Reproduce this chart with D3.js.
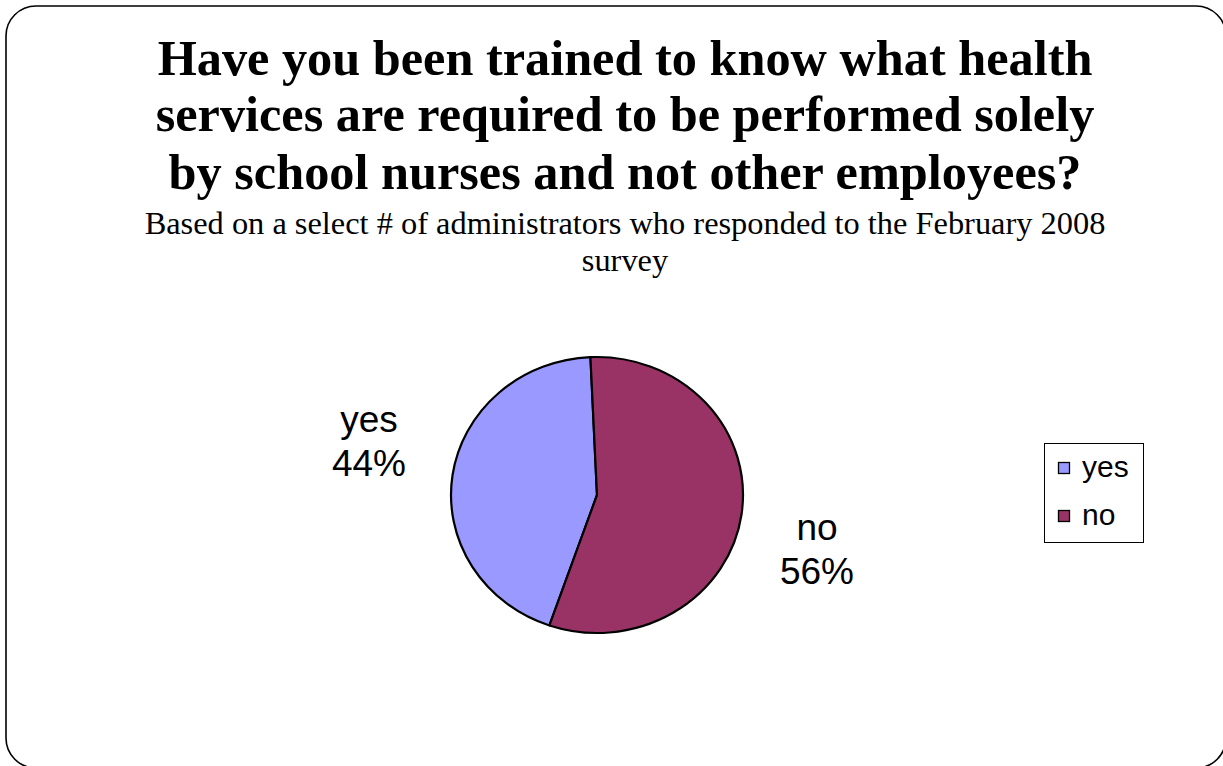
<!DOCTYPE html>
<html><head><meta charset="utf-8">
<script src="https://cdn.jsdelivr.net/npm/d3@7"></script>
<style>html,body{margin:0;padding:0;background:#fff;}svg{display:block;}</style>
</head><body>
<svg id="c" width="1223" height="766"></svg>
<script>
const categories = ["yes", "no"];
const values = [44, 56];
const colors = ["#9999FF", "#993366"];
const titleLines = ["Have you been trained to know what health", "services are required to be performed solely", "by school nurses and not other employees?"];
const subtitleLines = ["Based on a select # of administrators who responded to the February 2008", "survey"];

const svg = d3.select("#c");
svg.append("rect").attr("x", 6).attr("y", 6).attr("width", 1220).attr("height", 762)
  .attr("rx", 30).attr("ry", 30).attr("fill", "#fff").attr("stroke", "#000").attr("stroke-width", 1.6);

const titleY = [75, 131, 189];
svg.append("g").selectAll("text").data(titleLines).join("text")
  .attr("x", 625).attr("y", (d, i) => titleY[i])
  .attr("text-anchor", "middle")
  .attr("font-family", "'Liberation Serif','Times New Roman',serif")
  .attr("font-weight", "bold").attr("font-size", 50.3).text(d => d);

svg.append("g").selectAll("text").data(subtitleLines).join("text")
  .attr("x", 625).attr("y", (d, i) => 234 + i * 37)
  .attr("text-anchor", "middle")
  .attr("font-family", "'Liberation Serif','Times New Roman',serif")
  .attr("font-size", 32.4).text(d => d);

const cx = 597, cy = 495, rx = 146, ry = 138;
const total = d3.sum(values);
const offset = -0.045 - (values[0] / total) * 2 * Math.PI;
const pie = d3.pie().sort(null).startAngle(offset).endAngle(offset + 2 * Math.PI);
const arcs = pie(values);
const arc = d3.arc().innerRadius(0).outerRadius(rx);
const g = svg.append("g").attr("transform", `translate(${cx},${cy}) scale(1,${ry / rx})`);
g.selectAll("path").data(arcs).join("path")
  .attr("d", arc).attr("fill", (d, i) => colors[i])
  .attr("stroke", "#000").attr("stroke-width", 2.2)
  .attr("vector-effect", "non-scaling-stroke").attr("stroke-linejoin", "round");

// data labels
const labelPos = [[369, 432], [817, 540]];
const lg = svg.append("g");
arcs.forEach((d, i) => {
  const t = lg.append("text").attr("text-anchor", "middle")
    .attr("font-family", "'Liberation Sans',Arial,sans-serif").attr("font-size", 37);
  t.append("tspan").attr("x", labelPos[i][0]).attr("y", labelPos[i][1]).text(categories[i]);
  t.append("tspan").attr("x", labelPos[i][0]).attr("y", labelPos[i][1] + 44)
    .text(Math.round(d.value / total * 100) + "%");
});

// legend
const leg = svg.append("g");
leg.append("rect").attr("x", 1044.5).attr("y", 443.5).attr("width", 99).attr("height", 99)
  .attr("fill", "#fff").attr("stroke", "#000").attr("stroke-width", 1);
categories.forEach((c, i) => {
  const y = 462 + i * 48;
  leg.append("rect").attr("x", 1058.5).attr("y", y + 0.5).attr("width", 11).attr("height", 11)
    .attr("fill", colors[i]).attr("stroke", "#000").attr("stroke-width", 1.3);
  leg.append("text").attr("x", 1082).attr("y", y + 15)
    .attr("font-family", "'Liberation Sans',Arial,sans-serif").attr("font-size", 30).text(c);
});
</script>
</body></html>
